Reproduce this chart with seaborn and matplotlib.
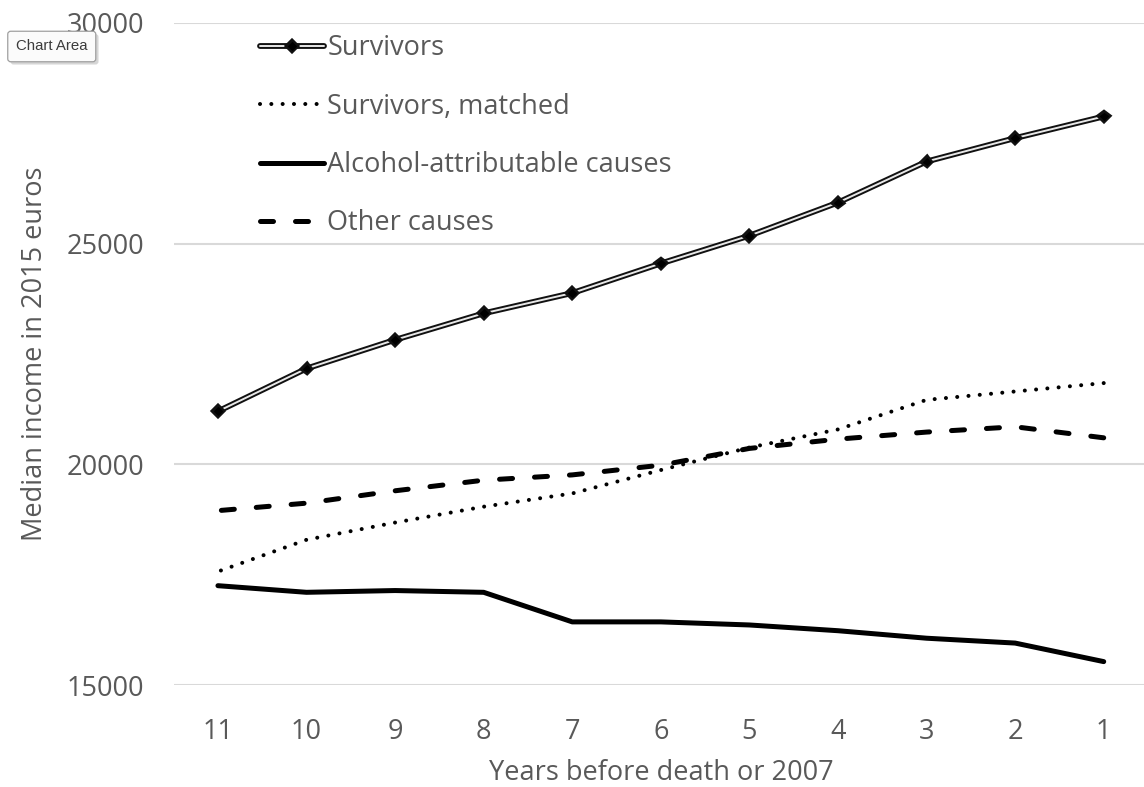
import matplotlib
matplotlib.use("Agg")
import matplotlib.pyplot as plt
import matplotlib.patheffects as pe
import seaborn as sns

# Median income (2015 euros) by years before death / 2007
years = [11, 10, 9, 8, 7, 6, 5, 4, 3, 2, 1]
survivors = [21200, 22170, 22820, 23420, 23880, 24550, 25180, 25930, 26860, 27390, 27880]
survivors_matched = [17570, 18290, 18680, 19040, 19340, 19870, 20380, 20790, 21460, 21650, 21840]
alcohol_causes = [17250, 17100, 17140, 17100, 16430, 16430, 16360, 16230, 16060, 15950, 15530]
other_causes = [18950, 19120, 19400, 19640, 19760, 19980, 20360, 20570, 20730, 20850, 20600]

y_ticks = [15000, 20000, 25000, 30000]
x_label = "Years before death or 2007"
y_label = "Median income in 2015 euros"

TEXT = "#595959"
GRID = "#d9d9d9"

sns.set_theme(style="white")
plt.rcParams["font.family"] = ["Open Sans", "DejaVu Sans"]

fig = plt.figure(figsize=(11.44, 7.87), dpi=100)
ax = fig.add_axes([0.1518, 0.1296, 0.8517, 0.8413])

# Survivors: hollow double line with diamond markers
sns.lineplot(x=years, y=survivors, ax=ax, color="#e8e8e8", lw=1.4,
             marker="D", markersize=4, markerfacecolor="black",
             markeredgecolor="black", label="Survivors",
             path_effects=[pe.Stroke(linewidth=4.2, foreground="#111111"), pe.Normal()])
sns.lineplot(x=years, y=survivors_matched, ax=ax, color="black", lw=2.9,
             linestyle=(0, (0.01, 2.8)), dash_capstyle="round",
             label="Survivors, matched")
sns.lineplot(x=years, y=alcohol_causes, ax=ax, color="black", lw=3.6,
             solid_capstyle="round", solid_joinstyle="round",
             label="Alcohol-attributable causes")
sns.lineplot(x=years, y=other_causes, ax=ax, color="black", lw=3.6,
             linestyle=(0, (2.6, 4.4)), dash_capstyle="round",
             label="Other causes")

ax.set_xlim(11.5, 0.5)
ax.set_ylim(15000, 30000)
ax.set_xticks(years)
ax.set_xticklabels([str(y) for y in years])
ax.set_yticks(y_ticks)
ax.set_yticklabels([str(v) for v in y_ticks])

for s in ax.spines.values():
    s.set_visible(False)
ax.grid(axis="y", color=GRID, lw=1.5)
ax.grid(axis="x", visible=False)
ax.set_axisbelow(True)
ax.tick_params(axis="y", length=0, pad=21, labelsize=19.5, labelcolor=TEXT)
ax.tick_params(axis="x", length=0, pad=24, labelsize=19.5, labelcolor=TEXT)

ax.set_xlabel(x_label, fontsize=19.5, color=TEXT)
ax.set_ylabel(y_label, fontsize=19.5, color=TEXT)
ax.xaxis.set_label_coords(0.501, -0.112)
ax.yaxis.set_label_coords(-0.128, 0.5)

leg = ax.legend(loc="upper left", bbox_to_anchor=(0.078, 0.999), frameon=False,
                fontsize=19.5, handlelength=2.35, handletextpad=0.12,
                labelspacing=1.12, borderaxespad=0)
for t in leg.get_texts():
    t.set_color(TEXT)

# Excel-style hover tag in the corner
tag = fig.text(16 / 1144, 1 - 46.5 / 787, "Chart Area", fontsize=10.8, color="#3c3c3c",
               family=["Liberation Sans Narrow", "Liberation Sans", "DejaVu Sans"],
               ha="left", va="center",
               bbox=dict(boxstyle="round,pad=0.55,rounding_size=0.2",
                         fc="#fbfbfb", ec="#a0a0a0", lw=0.9))
tag.get_bbox_patch().set_path_effects(
    [pe.withSimplePatchShadow(offset=(2, -2), shadow_rgbFace="#bbbbbb", alpha=0.6)])

fig.savefig("out.png", dpi=100)
